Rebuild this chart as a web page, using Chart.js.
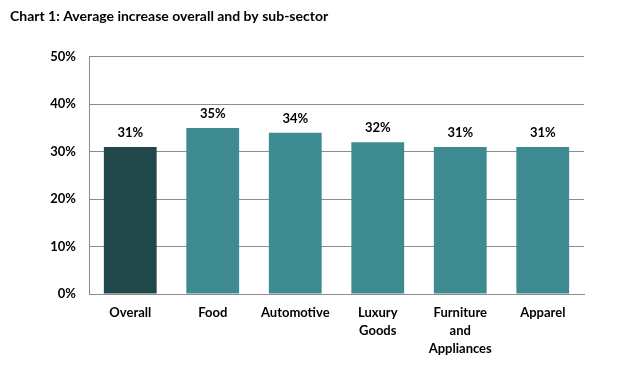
<!DOCTYPE html>
<html>
<head>
<meta charset="utf-8">
<script src="https://cdn.jsdelivr.net/npm/chart.js@4/dist/chart.umd.min.js"></script>
<style>
  html, body { margin: 0; padding: 0; background: #fff; }
  #wrap { width: 635px; height: 374px; }
</style>
</head>
<body>
<div id="wrap"><canvas id="chart" width="635" height="374"></canvas></div>
<script>
// ── Data ─────────────────────────────────────────────
const categories = ["Overall", "Food", "Automotive", ["Luxury", "Goods"], ["Furniture", "and", "Appliances"], "Apparel"];
const increase = [31, 35, 34, 32, 31, 31];
const yTicks = [0, 10, 20, 30, 40, 50];

// ── Colours ──────────────────────────────────────────
const DARK = "#20474a";
const TEAL = "#3d8b91";
const GRID = "#8c8c8c";
const FONT = "Lato, 'Open Sans', sans-serif";

// value labels above each bar
const barLabels = {
  id: "barLabels",
  afterDatasetsDraw(chart) {
    const ctx = chart.ctx;
    const meta = chart.getDatasetMeta(0);
    ctx.save();
    ctx.font = "bold 13px " + FONT;
    ctx.fillStyle = "#000";
    ctx.textAlign = "center";
    ctx.textBaseline = "alphabetic";
    meta.data.forEach((bar, i) => {
      ctx.fillText(increase[i] + "%", bar.x, bar.y - 10);
    });
    ctx.restore();
  },
};

new Chart(document.getElementById("chart"), {
  type: "bar",
  data: {
    labels: categories,
    datasets: [{
      data: increase,
      backgroundColor: increase.map((_, i) => (i === 0 ? DARK : TEAL)),
      categoryPercentage: 0.64,
      barPercentage: 1,
    }],
  },
  options: {
    responsive: false,
    animation: false,
    layout: { padding: { left: 10, right: 51, top: 0, bottom: 0 } },
    plugins: {
      legend: { display: false },
      tooltip: { enabled: false },
      title: {
        display: true,
        text: "Chart 1: Average increase overall and by sub-sector",
        align: "start",
        color: "#000",
        font: { family: FONT, size: 14, weight: "bold" },
        padding: { top: 8, bottom: 32 },
      },
    },
    scales: {
      x: {
        grid: { display: false, drawTicks: false },
        border: { display: true, color: GRID, width: 1 },
        ticks: {
          color: "#000",
          padding: 10,
          maxRotation: 0,
          autoSkip: false,
          font: { family: FONT, size: 13, weight: "bold", lineHeight: 1.38 },
        },
        afterFit: (s) => { s.height = 80; },
      },
      y: {
        min: 0,
        max: 50,
        afterBuildTicks: (s) => { s.ticks = yTicks.map((v) => ({ value: v })); },
        grid: { color: GRID, drawTicks: false, lineWidth: 1 },
        border: { display: true, color: GRID, width: 1 },
        ticks: {
          color: "#000",
          padding: 13,
          font: { family: FONT, size: 13, weight: "bold" },
          callback: (v) => v + "%",
        },
        afterFit: (s) => { s.width = 79; },
      },
    },
  },
  plugins: [barLabels],
});
</script>
</body>
</html>
